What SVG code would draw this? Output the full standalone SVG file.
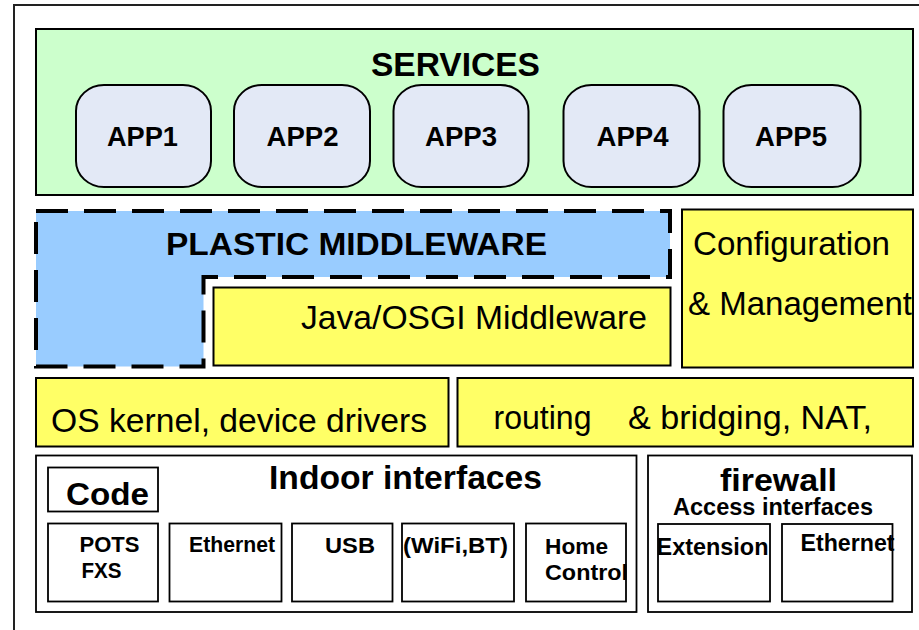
<svg xmlns="http://www.w3.org/2000/svg" width="919" height="630" viewBox="0 0 919 630">
<style>
text{font-family:"Liberation Sans",Arial,sans-serif;fill:#000}
.b{font-weight:bold}
.box{stroke:#000;stroke-width:2}
.thin{fill:#fff;stroke:#000;stroke-width:1.8}
.yel{fill:#FFFF66}
.app{fill:#E3E9F6;stroke:#000;stroke-width:2}
.appt{font-weight:bold;font-size:27px;text-anchor:middle}
</style>
<rect width="919" height="630" fill="#fff"/>
<rect id="frame" x="14" y="5" width="930" height="650" fill="none" stroke="#222" stroke-width="2"/>

<g id="services">
<rect class="box" x="36" y="29" width="877" height="166" fill="#CCFFCC"/>
<text class="b" x="371" y="76" font-size="33" textLength="169" lengthAdjust="spacingAndGlyphs">SERVICES</text>
</g>
<g id="app1"><rect class="app" x="76" y="85" width="135" height="102" rx="28" ry="26"/><text class="appt" x="142.5" y="146" textLength="71" lengthAdjust="spacingAndGlyphs">APP1</text></g>
<g id="app2"><rect class="app" x="234" y="85" width="136" height="102" rx="28" ry="26"/><text class="appt" x="302.5" y="146" textLength="72" lengthAdjust="spacingAndGlyphs">APP2</text></g>
<g id="app3"><rect class="app" x="393.5" y="85" width="135" height="102" rx="28" ry="26"/><text class="appt" x="461" y="146" textLength="72" lengthAdjust="spacingAndGlyphs">APP3</text></g>
<g id="app4"><rect class="app" x="563.5" y="85" width="136" height="102" rx="28" ry="26"/><text class="appt" x="632.5" y="146" textLength="72" lengthAdjust="spacingAndGlyphs">APP4</text></g>
<g id="app5"><rect class="app" x="723.5" y="85" width="137" height="102" rx="28" ry="26"/><text class="appt" x="791" y="146" textLength="72" lengthAdjust="spacingAndGlyphs">APP5</text></g>

<g id="plastic">
<path d="M36,211 H670 V277 H203.5 V366.5 H36 Z" fill="#99CCFF" stroke="#000" stroke-width="4" stroke-dasharray="32 16"/>
<text class="b" x="166" y="255" font-size="32" textLength="381" lengthAdjust="spacingAndGlyphs">PLASTIC MIDDLEWARE</text>
</g>

<g id="java">
<rect class="box yel" x="213.5" y="287.5" width="457" height="78"/>
<text x="301" y="329" font-size="33" textLength="346" lengthAdjust="spacingAndGlyphs">Java/OSGI Middleware</text>
</g>

<g id="config">
<rect class="box yel" x="682" y="209.5" width="231" height="158"/>
<text x="693" y="255" font-size="33" textLength="197" lengthAdjust="spacingAndGlyphs">Configuration</text>
<text x="688" y="315" font-size="33" textLength="224" lengthAdjust="spacingAndGlyphs">&amp; Management</text>
</g>

<g id="os">
<rect class="box yel" x="36" y="378" width="412.5" height="68.5"/>
<text x="51" y="432" font-size="33" textLength="376" lengthAdjust="spacingAndGlyphs">OS kernel, device drivers</text>
</g>

<g id="routing">
<rect class="box yel" x="457.5" y="378" width="455.5" height="68.5"/>
<text x="493.5" y="429" font-size="33" textLength="98" lengthAdjust="spacingAndGlyphs">routing</text>
<text x="628" y="429" font-size="33" textLength="244" lengthAdjust="spacingAndGlyphs">&amp; bridging, NAT,</text>
</g>

<g id="indoor">
<rect class="thin" x="36" y="455.5" width="600.5" height="156.5"/>
<text class="b" x="269" y="489" font-size="33" textLength="273" lengthAdjust="spacingAndGlyphs">Indoor interfaces</text>
</g>
<g id="code">
<rect class="thin" x="48" y="467.5" width="110" height="44"/>
<text class="b" x="66" y="505" font-size="32" textLength="83" lengthAdjust="spacingAndGlyphs">Code</text>
</g>
<g id="pots">
<rect class="thin" x="48" y="523.5" width="110" height="78"/>
<text class="b" x="79.5" y="552" font-size="22" textLength="60" lengthAdjust="spacingAndGlyphs">POTS</text>
<text class="b" x="81.5" y="578" font-size="22" textLength="40" lengthAdjust="spacingAndGlyphs">FXS</text>
</g>
<g id="ethernet1">
<rect class="thin" x="169.5" y="523.5" width="112" height="78"/>
<text class="b" x="189" y="552" font-size="22" textLength="86" lengthAdjust="spacingAndGlyphs">Ethernet</text>
</g>
<g id="usb">
<rect class="thin" x="292" y="523.5" width="100.5" height="78"/>
<text class="b" x="325" y="553" font-size="22" textLength="50" lengthAdjust="spacingAndGlyphs">USB</text>
</g>
<g id="wifi">
<rect class="thin" x="402" y="523.5" width="112" height="78"/>
<text class="b" x="403" y="553" font-size="22" textLength="105" lengthAdjust="spacingAndGlyphs">(WiFi,BT)</text>
</g>
<g id="home">
<rect class="thin" x="526" y="523.5" width="100" height="78"/>
<text class="b" x="545" y="554" font-size="22" textLength="63" lengthAdjust="spacingAndGlyphs">Home</text>
<text class="b" x="545" y="580" font-size="22" textLength="83" lengthAdjust="spacingAndGlyphs">Control</text>
</g>

<g id="firewall">
<rect class="thin" x="648" y="455.5" width="264" height="156.5"/>
<text class="b" x="720" y="491" font-size="32" textLength="117" lengthAdjust="spacingAndGlyphs">firewall</text>
<text class="b" x="673" y="515" font-size="23" textLength="200" lengthAdjust="spacingAndGlyphs">Access interfaces</text>
</g>
<g id="extension">
<rect class="thin" x="658" y="524" width="112" height="77.5"/>
<text class="b" x="656.5" y="555" font-size="23" textLength="112" lengthAdjust="spacingAndGlyphs">Extension</text>
</g>
<g id="ethernet2">
<rect class="thin" x="782" y="524" width="110.5" height="77.5"/>
<text class="b" x="800.5" y="551" font-size="23" textLength="94" lengthAdjust="spacingAndGlyphs">Ethernet</text>
</g>
</svg>
